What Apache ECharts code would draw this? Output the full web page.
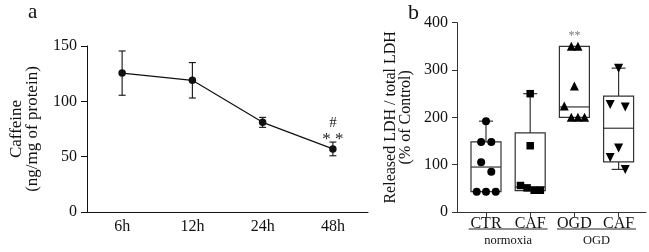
<!DOCTYPE html>
<html><head><meta charset="utf-8">
<script src="https://cdn.jsdelivr.net/npm/echarts@6/dist/echarts.min.js"></script>
<style>html,body{margin:0;padding:0;background:#fff}#c{width:649px;height:252px}</style>
</head><body><div id="c"></div><script>
// ---- Panel a data ----
const timeLabels = ['6h', '12h', '24h', '48h'];
const caffeineMean = [125.5, 119, 81, 57];
const caffeineSD = [20, 16, 4.5, 6.2];
const caffeineStars = ['', '', '', '* *'];
const caffeineHash = ['', '', '', '#'];

// ---- Panel b data ----
const groupLabels = ['CTR', 'CAF', 'OGD', 'CAF'];
const conditionLabels = ['normoxia', 'OGD'];
// [min, Q1, median, Q3, max]
const boxStats = [
  [43, 43, 95, 148, 192],
  [45, 45, 53, 167, 250],
  [200, 200, 222, 350, 350],
  [90, 106, 177, 245, 304]
];
const ctrPoints = [192, 148, 148, 105, 85, 43, 43, 43];
const ctrSpread = [0, -0.11, 0.12, -0.11, 0.12, -0.21, 0, 0.22];
const cafPoints = [250, 140, 56, 51, 46, 46];
const cafSpread = [0, 0, -0.22, -0.07, 0.09, 0.23];
const ogdPoints = [350, 350, 266, 224, 200, 200, 200];
const ogdSpread = [-0.07, 0.08, 0, -0.23, -0.07, 0.08, 0.23];
const ogdCafPoints = [304, 227, 222, 135, 115, 90];
const ogdCafSpread = [0, -0.19, 0.15, 0, -0.19, 0.15];
const boxStars = ['', '', '**', ''];

const FONT = 'Liberation Serif';
const chart = echarts.init(document.getElementById('c'));

function pts(vals, spread, gi) { return vals.map((v, k) => [gi + spread[k], v]); }

const errData = caffeineMean.map((m, i) => [i, m - caffeineSD[i], m + caffeineSD[i]]);
const annA = caffeineMean.map((m, i) => [i, m + caffeineSD[i]]);

const option = {
  animation: false,
  backgroundColor: '#fff',
  textStyle: { fontFamily: FONT },
  title: [
    { text: 'a', left: 23, top: -3, textStyle: { fontFamily: FONT, fontSize: 21, fontWeight: 'normal', color: '#111' } },
    { text: 'b', left: 403, top: -3, textStyle: { fontFamily: FONT, fontSize: 22, fontWeight: 'normal', color: '#111' } }
  ],
  grid: [
    { left: 87, top: 46, width: 281, height: 166 },
    { left: 457, top: 22.7, width: 189, height: 189.3 },
    { left: 463.9, top: 22.7, width: 176.8, height: 189.3 }
  ],
  xAxis: [
    { type: 'category', gridIndex: 0, data: timeLabels, boundaryGap: true,
      axisLine: { onZero: false, lineStyle: { color: '#111', width: 1 } },
      axisTick: { alignWithLabel: true, length: 5, interval: 0, lineStyle: { color: '#111' } },
      axisLabel: { fontFamily: FONT, fontSize: 16, color: '#111', margin: 7, interval: 0 } },
    { type: 'value', gridIndex: 1, min: -0.656, max: 3.62,
      axisLine: { show: true, onZero: false, lineStyle: { color: '#333', width: 1 } },
      axisTick: { show: false }, axisLabel: { show: false }, splitLine: { show: false } },
    { type: 'category', gridIndex: 2, data: groupLabels, boundaryGap: true,
      axisLine: { show: true, onZero: false, lineStyle: { color: '#333', opacity: 0 } },
      axisTick: { show: true, alignWithLabel: true, interval: 0, length: 5, lineStyle: { color: '#333', opacity: 1 } },
      axisLabel: { fontFamily: FONT, fontSize: 16, color: '#111', margin: 4, interval: 0, hideOverlap: false } }
  ],
  yAxis: [
    { type: 'value', gridIndex: 0, min: 0, max: 150, interval: 50,
      name: 'Caffeine\n(ng/mg of protein)', nameLocation: 'middle', nameGap: 46,
      nameTextStyle: { fontFamily: FONT, fontSize: 17, lineHeight: 16, color: '#111' },
      axisLine: { show: true, onZero: false, lineStyle: { color: '#111', width: 1 } },
      axisTick: { show: true, length: 6, lineStyle: { color: '#111' } },
      axisLabel: { fontFamily: FONT, fontSize: 16, color: '#111', margin: 10 },
      splitLine: { show: false } },
    { type: 'value', gridIndex: 1, min: 0, max: 400, interval: 100,
      name: 'Released LDH / total LDH\n(% of Control)', nameLocation: 'middle', nameGap: 43,
      nameTextStyle: { fontFamily: FONT, fontSize: 16, lineHeight: 15.5, color: '#111' },
      axisLine: { show: true, onZero: false, lineStyle: { color: '#333', width: 1 } },
      axisTick: { show: true, length: 5, lineStyle: { color: '#333' } },
      axisLabel: { fontFamily: FONT, fontSize: 16, color: '#111', margin: 9 },
      splitLine: { show: false } },
    { type: 'value', gridIndex: 2, min: 0, max: 400, show: false }
  ],
  series: [
    { type: 'custom', xAxisIndex: 0, yAxisIndex: 0, data: errData, z: 2,
      renderItem: function (params, api) {
        const lo = api.coord([api.value(0), api.value(1)]);
        const hi = api.coord([api.value(0), api.value(2)]);
        const w = 3.5, st = { stroke: '#111', lineWidth: 1.1 };
        return { type: 'group', children: [
          { type: 'line', shape: { x1: lo[0], y1: lo[1], x2: hi[0], y2: hi[1] }, style: st },
          { type: 'line', shape: { x1: lo[0] - w, y1: lo[1], x2: lo[0] + w, y2: lo[1] }, style: st },
          { type: 'line', shape: { x1: hi[0] - w, y1: hi[1], x2: hi[0] + w, y2: hi[1] }, style: st }
        ] };
      } },
    { type: 'line', xAxisIndex: 0, yAxisIndex: 0, data: caffeineMean, z: 3,
      symbol: 'circle', symbolSize: 7.5, showSymbol: true,
      lineStyle: { color: '#111', width: 1.2 }, itemStyle: { color: '#111' } },
    { type: 'custom', xAxisIndex: 0, yAxisIndex: 0, data: annA, z: 4,
      renderItem: function (params, api) {
        const i = params.dataIndex;
        const p = api.coord([api.value(0), api.value(1)]);
        return { type: 'group', children: [
          { type: 'text', style: { text: caffeineStars[i], x: p[0], y: p[1] - 3, align: 'center', verticalAlign: 'middle',
              fontFamily: FONT, fontSize: 17, fill: '#222' } },
          { type: 'text', style: { text: caffeineHash[i], x: p[0], y: p[1] - 19, align: 'center', verticalAlign: 'middle',
              fontFamily: FONT, fontSize: 15, fill: '#222' } }
        ] };
      } },
    { type: 'custom', xAxisIndex: 1, yAxisIndex: 1, z: 2,
      data: boxStats.map((b, i) => [i].concat(b)),
      renderItem: function (params, api) {
        const i = api.value(0);
        const mn = api.coord([i, api.value(1)]), q1 = api.coord([i, api.value(2)]),
              md = api.coord([i, api.value(3)]), q3 = api.coord([i, api.value(4)]),
              mx = api.coord([i, api.value(5)]);
        const hw = 15, cw = 7, st = { stroke: '#333', lineWidth: 1.2, fill: null };
        const ch = [
          { type: 'rect', shape: { x: q3[0] - hw, y: q3[1], width: 2 * hw, height: q1[1] - q3[1] }, style: { stroke: '#333', lineWidth: 1.2, fill: 'rgba(0,0,0,0)' } },
          { type: 'line', shape: { x1: md[0] - hw, y1: md[1], x2: md[0] + hw, y2: md[1] }, style: st }
        ];
        if (api.value(5) > api.value(4)) {
          ch.push({ type: 'line', shape: { x1: q3[0], y1: q3[1], x2: mx[0], y2: mx[1] }, style: st });
          ch.push({ type: 'line', shape: { x1: mx[0] - cw, y1: mx[1], x2: mx[0] + cw, y2: mx[1] }, style: st });
        }
        if (api.value(1) < api.value(2)) {
          ch.push({ type: 'line', shape: { x1: q1[0], y1: q1[1], x2: mn[0], y2: mn[1] }, style: st });
          ch.push({ type: 'line', shape: { x1: mn[0] - cw, y1: mn[1], x2: mn[0] + cw, y2: mn[1] }, style: st });
        }
        return { type: 'group', children: ch };
      } },
    { type: 'scatter', xAxisIndex: 1, yAxisIndex: 1, z: 3, data: pts(ctrPoints, ctrSpread, 0),
      symbol: 'circle', symbolSize: 8, itemStyle: { color: '#000', opacity: 1 } },
    { type: 'scatter', xAxisIndex: 1, yAxisIndex: 1, z: 3, data: pts(cafPoints, cafSpread, 1),
      symbol: 'rect', symbolSize: 7.5, itemStyle: { color: '#000', opacity: 1 } },
    { type: 'scatter', xAxisIndex: 1, yAxisIndex: 1, z: 3, data: pts(ogdPoints, ogdSpread, 2),
      symbol: 'triangle', symbolSize: 9, itemStyle: { color: '#000', opacity: 1 } },
    { type: 'scatter', xAxisIndex: 1, yAxisIndex: 1, z: 3, data: pts(ogdCafPoints, ogdCafSpread, 3),
      symbol: 'triangle', symbolRotate: 180, symbolSize: 9, itemStyle: { color: '#000', opacity: 1 } },
    { type: 'custom', xAxisIndex: 1, yAxisIndex: 1, z: 4,
      data: boxStats.map((b, i) => [i, b[4]]),
      renderItem: function (params, api) {
        const p = api.coord([api.value(0), api.value(1)]);
        return { type: 'text', style: { text: boxStars[params.dataIndex], x: p[0], y: p[1] - 11, align: 'center', verticalAlign: 'middle',
          fontFamily: FONT, fontSize: 12, fill: '#777' } };
      } }
  ]
};
chart.setOption(option);

// group underlines below panel b, placed through the axis scale
const pairs = [[0, 1], [2, 3]];
const gfx = [];
pairs.forEach((pr, k) => {
  const c = chart.convertToPixel({ xAxisIndex: 1 }, (pr[0] + pr[1]) / 2);
  const half = 39.5;
  gfx.push({ type: 'line', shape: { x1: c - half, y1: 229, x2: c + half, y2: 229 }, style: { stroke: '#222', lineWidth: 1 } });
  gfx.push({ type: 'text', style: { text: conditionLabels[k], x: c, y: 241, align: 'center', verticalAlign: 'middle',
    fontFamily: FONT, fontSize: 12.5, fill: '#111' } });
});
chart.setOption({ graphic: gfx });
</script></body></html>
